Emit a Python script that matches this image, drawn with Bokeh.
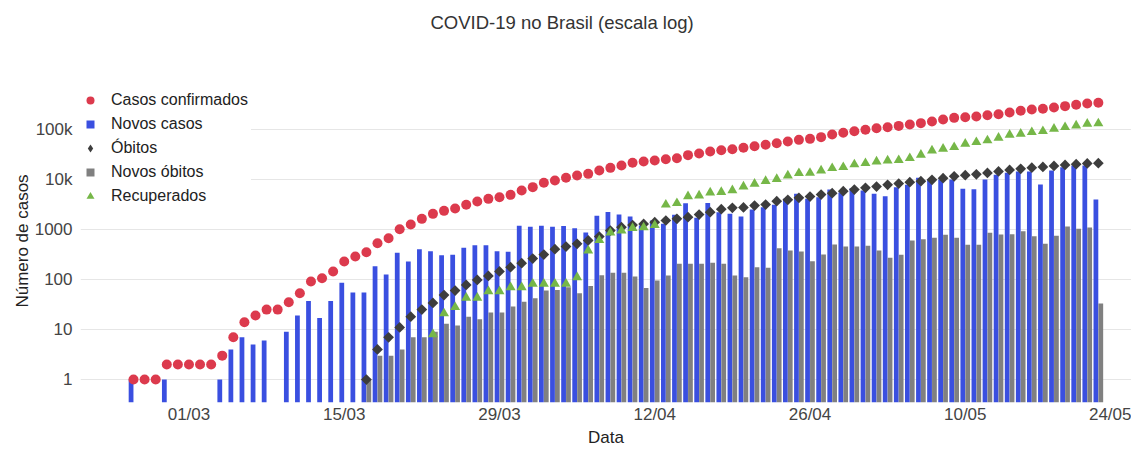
import math
import pandas as pd
from bokeh.plotting import figure
from bokeh.models import (ColumnDataSource, FixedTicker, DatetimeTickFormatter,
                          Legend, LegendItem, Range1d, Title)
from bokeh.transform import dodge
from bokeh.embed import file_html
from bokeh.resources import INLINE

# ---------------- data ----------------
start_date = "2020-02-25"
n_days = 88

casos_confirmados = [
    1, 1, 1, 2, 2, 2, 2, 2, 3, 7,
    14, 19, 25, 25, 35, 53, 91, 106, 145, 229,
    288, 352, 533, 671, 1016, 1259, 1634, 2057, 2362, 2630,
    3115, 3631, 4105, 4432, 4935, 6026, 7031, 8579, 9550, 10800,
    12023, 12980, 15136, 17100, 19055, 21550, 22900, 24000, 25500, 26700,
    30700, 33100, 36300, 38600, 40400, 43000, 46400, 49400, 53300, 57500,
    62100, 65000, 70300, 79400, 85800, 92600, 98500, 106000, 111000, 118000,
    126000, 134000, 144500, 158500, 171000, 176400, 182000, 193500, 202600, 218800,
    236300, 251200, 259000, 275400, 293000, 311500, 331000, 341800,
]

novos_casos = [
    1, 0, 0, 1, 0, 0, 0, 0, 1, 4,
    7, 5, 6, 0, 9, 19, 37, 17, 37, 86,
    55, 55, 185, 126, 341, 229, 404, 369, 307, 311,
    430, 486, 486, 369, 360, 1184, 1130, 1184, 1130, 1170,
    1063, 871, 1877, 2250, 1995, 1820, 1202, 1514, 1298, 1965,
    3362, 1711, 3400, 2222, 2057, 1820, 2512, 2796, 3115, 4105,
    5168, 4105, 4432, 6310, 5495, 6700, 6026, 5168, 4642, 7031,
    7820, 10800, 9850, 10000, 10000, 6500, 6400, 10000, 12400, 13600,
    14450, 14450, 7943, 15136, 17650, 19055, 19055, 3981,
]

obitos = [None] * 21 + [
    1, 4, 7, 11, 18, 25, 34, 49, 60,
    78, 98, 118, 145, 176, 212, 263, 316, 404, 457,
    517, 603, 724, 955, 1113, 1230, 1290, 1401, 1514, 1634,
    1765, 1995, 2222, 2550, 2713, 2760, 3020, 3162, 3687, 3920,
    4300, 4571, 5012, 5330, 5844, 6300, 6814, 7244, 7820, 8318,
    8840, 9260, 9850, 10630, 11600, 12200, 12700, 13500, 14500, 15500,
    16400, 17200, 17800, 18700, 19600, 20300, 20900, 21200,
]

novos_obitos = [0] * 21 + [
    1, 3, 3, 4, 7, 7, 9, 13, 12,
    18, 16, 22, 22, 29, 36, 42, 60, 62, 70,
    53, 74, 122, 136, 136, 115, 68, 95, 120, 206,
    206, 206, 217, 206, 120, 111, 176, 171, 423, 380,
    363, 232, 316, 501, 457, 457, 471, 380, 271, 311,
    603, 641, 681, 782, 681, 494, 494, 858, 794, 800,
    926, 735, 517, 747, 1148, 1032, 1096, 33,
]

recuperados = [None] * 27 + [
    8, 21, 28,
    43, 43, 58, 58, 70, 70, 82, 82, 82, 82,
    111, 378, 612, 865, 955, 1070, 1100, 1220, 3140, 3360,
    4600, 4786, 5495, 5620, 6100, 7244, 8190, 9330, 10220, 12020,
    13390, 13500, 15136, 16860, 17650, 20000, 21200, 22900, 24000, 24300,
    26700, 31150, 38000, 41000, 44350, 51700, 55800, 60300, 68100, 78200,
    81900, 88400, 92600, 103000, 111400, 120200, 129800, 132000,
]

tick_dates = ["2020-03-01", "2020-03-15", "2020-03-29", "2020-04-12",
              "2020-04-26", "2020-05-10", "2020-05-24"]
y_ticks = [1, 10, 100, 1000, 10000, 100000]
y_tick_labels = ["1", "10", "100", "1000", "10k", "100k"]

series_labels = ["Casos confirmados", "Novos casos", "Óbitos", "Novos óbitos", "Recuperados"]
chart_title = "COVID-19 no Brasil (escala log)"

# ---------------- build sources ----------------
dates = pd.date_range(start_date, periods=n_days, freq="D")
nan = float("nan")


def clean(vals):
    return [nan if (v is None or v <= 0) else float(v) for v in vals]


src = ColumnDataSource(dict(
    date=dates,
    conf=clean(casos_confirmados),
    obitos=clean(obitos),
    rec=clean(recuperados),
))

nc_idx = [i for i, v in enumerate(novos_casos) if v > 0]
src_nc = ColumnDataSource(dict(date=[dates[i] for i in nc_idx],
                               top=[float(novos_casos[i]) for i in nc_idx]))
no_idx = [i for i, v in enumerate(novos_obitos) if v > 0]
src_no = ColumnDataSource(dict(date=[dates[i] for i in no_idx],
                               top=[float(novos_obitos[i]) for i in no_idx]))

DAY = 86400000.0
FONT = "Liberation Sans"

# ---------------- figure ----------------
x0 = pd.Timestamp(start_date) - pd.Timedelta(hours=4.78 * 24)
x1 = pd.Timestamp(start_date) + pd.Timedelta(hours=89.99 * 24)

p = figure(width=1131, height=450, x_axis_type="datetime", y_axis_type="log",
           output_backend="svg", toolbar_location=None, title=None,
           x_range=Range1d(x0, x1), y_range=Range1d(0.347, 1e6),
           min_border_left=80, min_border_right=0, min_border_top=79,
           min_border_bottom=48)
p.outline_line_color = None
p.background_fill_color = "white"
p.border_fill_color = "white"

# spacer (closest to the frame) then the real title above it
p.add_layout(Title(text=" ", text_font_size="1px", standoff=44), "above")
p.add_layout(Title(text=chart_title, text_font=FONT, text_font_size="18.5px",
                   text_font_style="normal", text_color="#333333",
                   align="left", offset=350, standoff=0,
                   vertical_align="bottom"), "above")

# bars
blue = "#3a4fe0"
grey = "#808080"
p.vbar(x=dodge("date", -0.22 * DAY, range=p.x_range), top="top", bottom=0.01,
       width=0.43 * DAY, source=src_nc, fill_color=blue, line_color=None)
p.vbar(x=dodge("date", 0.22 * DAY, range=p.x_range), top="top", bottom=0.01,
       width=0.43 * DAY, source=src_no, fill_color=grey, line_color=None)

# markers
red = "#dc3a4d"
dark = "#3d3d3d"
green = "#76b748"
r_conf = p.scatter("date", "conf", source=src, marker="circle", size=10,
                   fill_color=red, line_color=None)
r_obit = p.scatter("date", "obitos", source=src, marker="square", size=7.6,
                   angle=math.pi / 4, fill_color=dark, line_color=None)
r_rec = p.scatter("date", "rec", source=src, marker="triangle", size=10,
                  fill_color=green, line_color=None)

# legend proxies (zero-size markers drawn from the same data)
px_nc = p.scatter("date", "top", source=src_nc, marker="square", size=0,
                  fill_color=blue, line_color=None)
px_ob = p.scatter("date", "obitos", source=src, marker="diamond", size=0,
                  fill_color=dark, line_color=None)
px_no = p.scatter("date", "top", source=src_no, marker="square", size=0,
                  fill_color=grey, line_color=None)

legend = Legend(items=[
    LegendItem(label=series_labels[0], renderers=[r_conf]),
    LegendItem(label=series_labels[1], renderers=[px_nc]),
    LegendItem(label=series_labels[2], renderers=[px_ob]),
    LegendItem(label=series_labels[3], renderers=[px_no]),
    LegendItem(label=series_labels[4], renderers=[r_rec]),
])
legend.location = (0, 196)
legend.margin = 0
legend.padding = 2
legend.spacing = 4
legend.glyph_width = 20
legend.glyph_height = 20
legend.label_height = 20
legend.label_width = 140
legend.label_standoff = 11
legend.label_text_font = FONT
legend.label_text_font_size = "16px"
legend.label_text_color = "#222222"
legend.border_line_color = None
legend.background_fill_color = "white"
legend.background_fill_alpha = 1.0
p.add_layout(legend)

# axes
xa = p.xaxis[0]
xa.ticker = FixedTicker(ticks=[pd.Timestamp(d).value / 1e6 for d in tick_dates])
xa.formatter = DatetimeTickFormatter(days="%d/%m", months="%d/%m", years="%d/%m")
xa.axis_label = "Data"
ya = p.yaxis[0]
ya.ticker = FixedTicker(ticks=y_ticks, minor_ticks=[])
ya.major_label_overrides = {t: lab for t, lab in zip(y_ticks, y_tick_labels)}
ya.axis_label = "Número de casos"

for ax in (xa, ya):
    ax.axis_line_color = None
    ax.major_tick_line_color = None
    ax.minor_tick_line_color = None
    ax.major_tick_out = 0
    ax.major_tick_in = 0
    ax.minor_tick_out = 0
    ax.minor_tick_in = 0
    ax.major_label_text_font = FONT
    ax.major_label_text_font_size = "17px"
    ax.major_label_text_color = "#444444"
    ax.axis_label_text_font = FONT
    ax.axis_label_text_font_size = "17px"
    ax.axis_label_text_font_style = "normal"
    ax.axis_label_text_color = "#222222"

xa.major_label_standoff = 2
xa.axis_label_standoff = 1
ya.major_label_standoff = 8
ya.axis_label_standoff = 0

p.xgrid.grid_line_color = None
p.ygrid.grid_line_color = "#e6e6e6"
p.ygrid.grid_line_width = 1
p.ygrid.ticker = FixedTicker(ticks=y_ticks)

open("out.html", "w").write(file_html(p, INLINE))
